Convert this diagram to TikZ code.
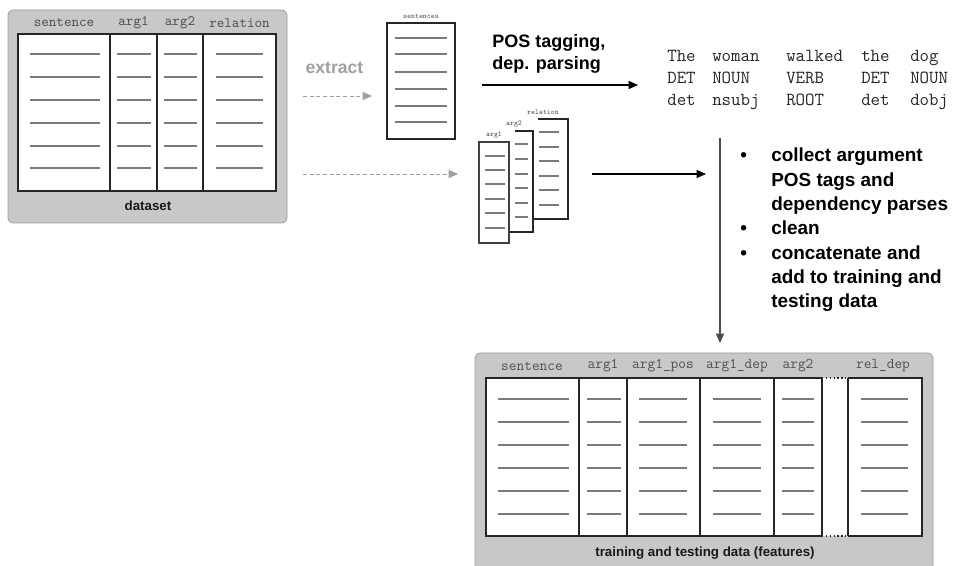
\documentclass[tikz,border=0pt]{standalone}
\usepackage{fontspec}
\setmainfont{Liberation Sans}
\usetikzlibrary{arrows.meta}
\definecolor{boxgray}{HTML}{C8C8C8}
\definecolor{boxedge}{HTML}{9C9C9C}
\definecolor{rowline}{HTML}{7A7A7A}
\definecolor{headtxt}{HTML}{505050}
\definecolor{extgray}{HTML}{A0A0A0}
\newcommand\tagrow[5]{\makebox[33.75pt][l]{#1}\makebox[55.5pt][l]{#2}\makebox[56.25pt][l]{#3}\makebox[36.75pt][l]{#4}#5}
\begin{document}
\begin{tikzpicture}[x=0.75pt,y=-0.75pt,
 panel/.style={fill=boxgray,draw=boxedge,rounded corners=3.75pt,line width=0.6pt},
 tablebox/.style={fill=white,draw=black!85,line width=0.9pt},
 divider/.style={draw=black!85,line width=0.9pt},
 rowln/.style={draw=rowline,line width=0.9pt},
 head/.style={font=\ttfamily\fontsize{10.8pt}{12pt}\selectfont,text=headtxt,inner sep=0pt},
 headb/.style={font=\ttfamily\fontsize{11.2pt}{12pt}\selectfont,text=headtxt,inner sep=0pt},
 tinylbl/.style={font=\ttfamily\fontsize{5.6pt}{6pt}\selectfont,text=headtxt,inner sep=0pt},
 captxt/.style={font=\bfseries\fontsize{10pt}{12pt}\selectfont,inner sep=0pt,text=black!90},
 bigbold/.style={font=\bfseries\fontsize{13.5pt}{16.5pt}\selectfont,inner sep=0pt,align=left,text=black},
 tagtxt/.style={font=\ttfamily\fontsize{13.8pt}{16.5pt}\selectfont,inner sep=0pt,anchor=base west,text=black!85},
 flow/.style={-{Triangle[length=7pt,width=6pt]},line width=0.8pt,draw=black},
 extflow/.style={-{Triangle[length=7pt,width=6pt]},draw=extgray,dash pattern=on 3pt off 2pt,line width=0.6pt}
]
\useasboundingbox (0,0) rectangle (957,566);

% ---------------- dataset ----------------
\path[panel] (8,10) rectangle (287,223);
\path[tablebox] (18,34) rectangle (276,191);
\foreach \x in {110,157,203} \draw[divider] (\x,34) -- (\x,191);
\node[head] (h1) at (64,23) {sentence};
\node[head] (h2) at (133.5,23) {arg1};
\node[head] (h3) at (180,23) {arg2};
\node[head] (h4) at (239.5,23) {relation};
\foreach \y in {54,77,100,123,146,168}{
  \draw[rowln] (30,\y) -- (100,\y);
  \draw[rowln] (117,\y) -- (151,\y);
  \draw[rowln] (164,\y) -- (197,\y);
  \draw[rowln] (216,\y) -- (263,\y);
}
\node[captxt] (dataset) at (148,206) {dataset};

% ---------------- extract ----------------
\node[font=\bfseries\fontsize{13.2pt}{15pt}\selectfont,text=extgray,inner sep=0pt] (extract) at (334.5,68) {extract};
\coordinate (e1s) at (303,96);
\coordinate (e1e) at (372,96);
\coordinate (e2s) at (303,174);
\coordinate (e2e) at (458,174);
\draw[extflow] (e1s) -- (e1e);
\draw[extflow] (e2s) -- (e2e);

% ---------------- sentences ----------------
\path[tablebox,line width=0.8pt] (387,23) rectangle (455,139);
\node[tinylbl] (sentlbl) at (421,16) {sentences};
\foreach \y in {38,54,72,89,106,122} \draw[rowln] (395,\y) -- (447,\y);

% ---------------- argument stack ----------------
\draw[divider,line width=0.8pt] (538,119) -- (568,119) -- (568,219) -- (533,219);
\foreach \y in {132,147,161,176,190,205} \draw[rowln] (539,\y) -- (559,\y);
\node[tinylbl] (rellbl) at (543,112) {relation};
\draw[divider,line width=0.8pt] (515,131) -- (533,131) -- (533,232) -- (510,232);
\foreach \y in {144,159,174,188,203,217} \draw[rowln] (515,\y) -- (528,\y);
\node[tinylbl] (a2lbl) at (514,124) {arg2};
\path[tablebox,line width=0.8pt,draw=black!75] (479,142) rectangle (509,243);
\foreach \y in {156,170,184,199,213,228} \draw[rowln] (485,\y) -- (505,\y);
\node[tinylbl] (a1lbl) at (494,135) {arg1};

% ---------------- POS tagging ----------------
\node[bigbold,anchor=base west] (pos) at (492,70) {POS tagging,\\dep. parsing};
\coordinate (p1s) at (482,85);
\coordinate (p1e) at (638,85);
\draw[flow] (p1s) -- (p1e);

\node[tagtxt] (tags) at (667,62) {\begin{tabular}[t]{@{}l@{}}
\tagrow{The}{woman}{walked}{the}{dog}\\
\tagrow{DET}{NOUN}{VERB}{DET}{NOUN}\\
\tagrow{det}{nsubj}{ROOT}{det}{dobj}
\end{tabular}};

\coordinate (p2s) at (592,174);
\coordinate (p2e) at (706,174);
\draw[flow] (p2s) -- (p2e);

% ---------------- steps ----------------
\coordinate (vs) at (720,138);
\coordinate (ve) at (720,343);
\draw[flow,draw=black!70] (vs) -- (ve);
\node[bigbold,anchor=base west] (steps) at (740,162) {\fontsize{14.2pt}{18.2pt}\selectfont
\begin{tabular}[t]{@{}p{23.25pt}@{}l@{}}
\textbullet & collect argument\\
 & POS tags and\\
 & dependency parses\\
\textbullet & clean\\
\textbullet & concatenate and\\
 & add to training and\\
 & testing data
\end{tabular}};

% ---------------- training data ----------------
\path[panel] (475,353) rectangle (933,575);
\path[fill=white] (486,378) rectangle (922,536);
\draw[divider] (822,378) -- (486,378) -- (486,536) -- (822,536);
\draw[divider] (848,378) -- (922,378) -- (922,536) -- (848,536);
\draw[divider,dotted] (822,378) -- (848,378);
\draw[divider,dotted] (822,536) -- (848,536);
\foreach \x in {579,627,700,774,822,848} \draw[divider] (\x,378) -- (\x,536);
\node[headb] (t1) at (532,366) {sentence};
\node[headb] (t2) at (603,366) {arg1};
\node[headb] (t3) at (663,366) {arg1\_pos};
\node[headb] (t4) at (737,366) {arg1\_dep};
\node[headb] (t5) at (798,366) {arg2};
\node[headb] (t6) at (883,366) {rel\_dep};
\foreach \y in {399,422,445,468,491,514}{
  \draw[rowln] (498,\y) -- (569,\y);
  \draw[rowln] (587,\y) -- (621,\y);
  \draw[rowln] (639,\y) -- (687,\y);
  \draw[rowln] (713,\y) -- (761,\y);
  \draw[rowln] (782,\y) -- (814,\y);
  \draw[rowln] (861,\y) -- (908,\y);
}
\node[captxt] (training) at (705,553) {training and testing data (features)};
\end{tikzpicture}
\end{document}
